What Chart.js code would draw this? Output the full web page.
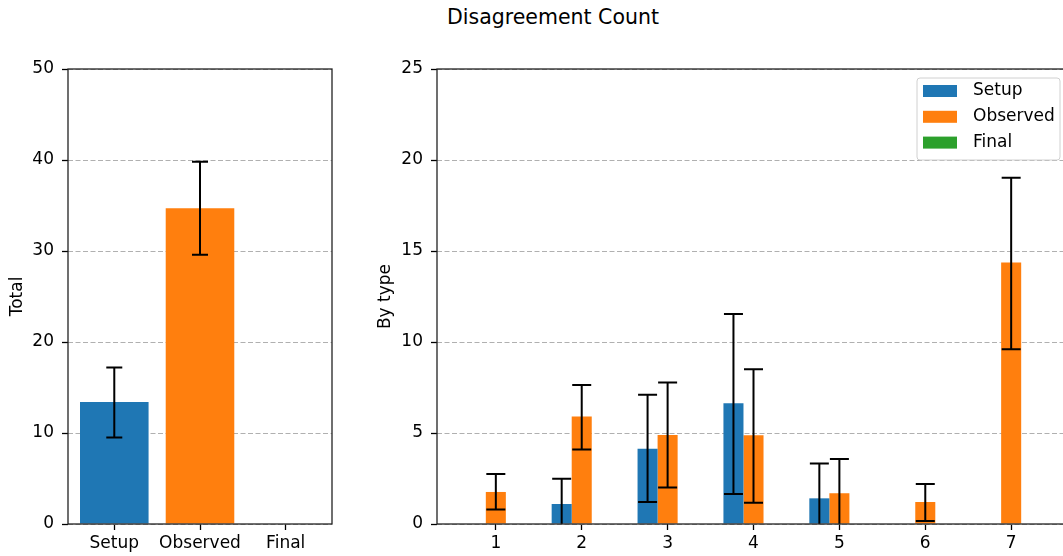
<!DOCTYPE html>
<html>
<head>
<meta charset="utf-8">
<script src="https://cdn.jsdelivr.net/npm/chart.js@4.4.0/dist/chart.umd.min.js"></script>
<style>
    html, body { margin: 0; padding: 0; background: #fff; overflow: hidden; width: 1063px; height: 556px; }
    #title { position: absolute; left: 0; top: 5px; width: 1106px; text-align: center;
             font: 20.5px 'DejaVu Sans', sans-serif; line-height: 24px; color: #000; }
    #wrap-total { position: absolute; left: 0; top: 0; width: 340px; height: 556px; }
    #wrap-type { position: absolute; left: 370px; top: 0; width: 710px; height: 556px; }
</style>
</head>
<body>
<div id="title">Disagreement Count</div>
<div id="wrap-total"><canvas id="total-chart"></canvas></div>
<div id="wrap-type"><canvas id="type-chart"></canvas></div>
<script>
    'use strict';

    // Data
    const groupLabels = ['Setup', 'Observed', 'Final'];
    const groupColors = ['#1f77b4', '#ff7f0e', '#2ca02c'];

    const totalValues = [13.4, 34.7, 0];
    const totalErrLow = [9.5, 29.6, null];
    const totalErrHigh = [17.2, 39.8, null];
    const totalTicks = [0, 10, 20, 30, 40, 50];

    const typeLabels = [1, 2, 3, 4, 5, 6, 7];
    const setupByType = [0, 1.1, 4.14, 6.63, 1.41, 0, 0];
    const setupLow = [null, -0.29, 1.21, 1.65, -0.51, null, null];
    const setupHigh = [null, 2.49, 7.1, 11.54, 3.33, null, null];
    const observedByType = [1.76, 5.91, 4.89, 4.87, 1.69, 1.21, 14.37];
    const observedLow = [0.79, 4.1, 2.01, 1.17, -0.19, 0.16, 9.6];
    const observedHigh = [2.75, 7.64, 7.78, 8.5, 3.57, 2.2, 19.03];
    const finalByType = [0, 0, 0, 0, 0, 0, 0];
    const typeTicks = [0, 5, 10, 15, 20, 25];

    Chart.defaults.font.family = "'DejaVu Sans', sans-serif";
    Chart.defaults.font.size = 17;
    Chart.defaults.color = '#000';

    // Error bars with caps, clipped to the plot area
    const errorBars = {
        id: 'errorBars',
        afterDatasetsDraw(chart, args, opts) {
            const {ctx, chartArea, scales} = chart;
            const y = scales.y;
            const half = opts.cap / 2;
            ctx.save();
            ctx.beginPath();
            ctx.rect(chartArea.left, chartArea.top, chartArea.width, chartArea.height);
            ctx.clip();
            ctx.strokeStyle = '#000';
            ctx.lineWidth = 2;
            chart.data.datasets.forEach((ds, i) => {
                if (!ds.errLow) return;
                chart.getDatasetMeta(i).data.forEach((bar, j) => {
                    const lo = ds.errLow[j];
                    const hi = ds.errHigh[j];
                    if (lo == null) return;
                    const yl = y.getPixelForValue(lo);
                    const yh = y.getPixelForValue(hi);
                    ctx.beginPath();
                    ctx.moveTo(bar.x, yl); ctx.lineTo(bar.x, yh);
                    ctx.moveTo(bar.x - half, yl); ctx.lineTo(bar.x + half, yl);
                    ctx.moveTo(bar.x - half, yh); ctx.lineTo(bar.x + half, yh);
                    ctx.stroke();
                });
            });
            ctx.restore();
        }
    };

    // Box around the plot area (matplotlib spines)
    const frame = {
        id: 'frame',
        afterDraw(chart) {
            const {ctx, chartArea: a} = chart;
            ctx.save();
            ctx.strokeStyle = '#222';
            ctx.lineWidth = 1.3;
            ctx.strokeRect(a.left, a.top, a.right - a.left, a.bottom - a.top);
            ctx.restore();
        }
    };

    // Legend box in the upper right corner
    const cornerLegend = {
        id: 'cornerLegend',
        afterDraw(chart) {
            const {ctx, chartArea: a} = chart;
            const w = 143, h = 82;
            const left = a.right - 10 - w;
            const top = a.top + 9;
            ctx.save();
            ctx.beginPath();
            ctx.roundRect(left, top, w, h, 3);
            ctx.fillStyle = 'rgba(255,255,255,0.85)';
            ctx.fill();
            ctx.strokeStyle = '#d0d0d0';
            ctx.lineWidth = 1;
            ctx.stroke();
            ctx.font = "17px 'DejaVu Sans', sans-serif";
            ctx.textBaseline = 'middle';
            chart.data.datasets.forEach((ds, i) => {
                const cy = top + 13 + i * 25.8;
                ctx.fillStyle = ds.backgroundColor;
                ctx.fillRect(left + 6, cy - 6, 34, 12);
                ctx.fillStyle = '#000';
                ctx.fillText(ds.label, left + 56, cy);
            });
            ctx.restore();
        }
    };

    function yScale(ticks, title, width, titlePad) {
        return {
            min: ticks[0],
            max: ticks[ticks.length - 1],
            afterBuildTicks: s => { s.ticks = ticks.map(v => ({value: v})); },
            afterFit: s => { s.width = width; },
            title: {display: true, text: title, padding: {top: titlePad, bottom: 0}},
            ticks: {padding: 8},
            grid: {color: '#b0b0b0', lineWidth: 1, tickLength: 6, tickColor: '#000', tickWidth: 1.3},
            border: {display: false, dash: [5, 2.5]}
        };
    }

    function xScale(min, max, values, label) {
        return {
            type: 'linear',
            min: min,
            max: max,
            offset: false,
            afterBuildTicks: s => { s.ticks = values.map(v => ({value: v})); },
            afterFit: s => { s.height = 32; },
            ticks: {padding: 3, maxRotation: 0, callback: label},
            grid: {offset: false, drawOnChartArea: false, tickLength: 6, tickColor: '#000', tickWidth: 1.3},
            border: {display: false}
        };
    }

    // Left panel: totals
    new Chart(document.getElementById('total-chart'), {
        type: 'bar',
        data: {
            datasets: [{
                label: 'Total',
                data: totalValues.map((v, i) => ({x: i, y: v})),
                backgroundColor: groupColors,
                errLow: totalErrLow,
                errHigh: totalErrHigh,
                barPercentage: 0.8,
                categoryPercentage: 1
            }]
        },
        options: {
            responsive: true,
            maintainAspectRatio: false,
            animation: false,
            layout: {padding: {top: 69, right: 8, left: 0, bottom: 0}},
            plugins: {
                legend: {display: false},
                tooltip: {enabled: false},
                errorBars: {cap: 16}
            },
            scales: {
                x: xScale(-0.54, 2.54, groupLabels.map((l, i) => i), v => groupLabels[v]),
                y: yScale(totalTicks, 'Total', 68, 7)
            }
        },
        plugins: [errorBars, frame]
    });

    // Right panel: by type
    const typeSeries = [
        {values: setupByType, low: setupLow, high: setupHigh},
        {values: observedByType, low: observedLow, high: observedHigh},
        {values: finalByType, low: null, high: null}
    ];

    new Chart(document.getElementById('type-chart'), {
        type: 'bar',
        data: {
            datasets: typeSeries.map((s, k) => ({
                label: groupLabels[k],
                data: s.values.map((v, i) => ({x: typeLabels[i], y: v})),
                backgroundColor: groupColors[k],
                errLow: s.low,
                errHigh: s.high,
                barPercentage: 1,
                categoryPercentage: 0.7
            }))
        },
        options: {
            responsive: true,
            maintainAspectRatio: false,
            animation: false,
            layout: {padding: {top: 69, right: 10, left: 0, bottom: 0}},
            plugins: {
                legend: {display: false},
                tooltip: {enabled: false},
                errorBars: {cap: 19}
            },
            scales: {
                x: xScale(0.315, 7.685, typeLabels, v => String(v)),
                y: yScale(typeTicks, 'By type', 67, 5)
            }
        },
        plugins: [errorBars, frame, cornerLegend]
    });
</script>
</body>
</html>
